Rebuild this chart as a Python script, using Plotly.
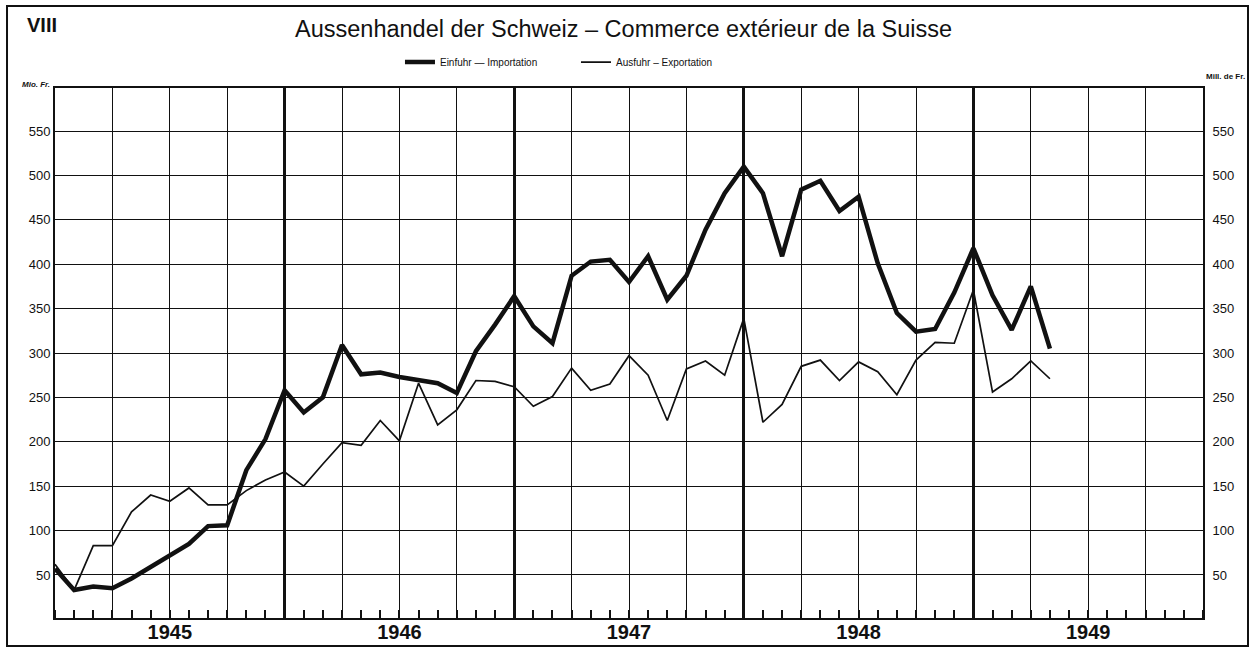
import plotly.graph_objects as go
import pandas as pd

# ---- data (Mio. Fr., monthly, Jan 1945 - May 1949) ----
start_month = "1945-01"
einfuhr = [57, 33, 37, 35, 46, 59, 72, 85, 105, 106, 168, 203,
           258, 233, 250, 309, 276, 278, 273, 270, 266, 255, 302, 332,
           364, 330, 311, 387, 403, 405, 380, 409, 360, 387, 439, 480,
           510, 480, 409, 484, 494, 460, 476, 401, 345, 324, 327, 368,
           418, 365, 326, 375, 305]
ausfuhr = [62, 33, 83, 83, 121, 140, 133, 148, 129, 129, 145, 157,
           166, 150, 175, 199, 196, 224, 201, 266, 219, 236, 269, 268,
           262, 240, 251, 283, 258, 265, 297, 275, 224, 282, 291, 275,
           339, 222, 242, 285, 292, 269, 290, 279, 253, 292, 312, 311,
           371, 256, 271, 291, 271]
years = ["1945", "1946", "1947", "1948", "1949"]
y_ticks = [50, 100, 150, 200, 250, 300, 350, 400, 450, 500, 550]

title_text = "Aussenhandel der Schweiz \u2013 Commerce extérieur de la Suisse"
name_imp = "Einfuhr \u2014 Importation"
name_exp = "Ausfuhr \u2013 Exportation"

# month index (0 = Jan 1945)
periods = pd.period_range(start_month, periods=len(einfuhr), freq="M")
x_idx = [(p.year - 1945) * 12 + (p.month - 1) for p in periods]
n_months = len(years) * 12
year_mid = [(int(y) - 1945) * 12 + 6 for y in years]

FONT = "Liberation Sans"
BLACK = "#111111"

fig = go.Figure()
fig.add_trace(go.Scatter(x=x_idx, y=einfuhr, mode="lines", name=name_imp,
                         line=dict(color=BLACK, width=4.5)))
fig.add_trace(go.Scatter(x=x_idx, y=ausfuhr, mode="lines", name=name_exp,
                         line=dict(color=BLACK, width=1.7)))

xr = [0, n_months]
yr = [1.5, 598.5]

fig.update_layout(
    width=1260, height=648,
    margin=dict(l=55, r=57, t=88, b=30, autoexpand=False),
    paper_bgcolor="white", plot_bgcolor="white",
    font=dict(family=FONT, color=BLACK),
    showlegend=True,
    legend=dict(orientation="h", x=0.3005, y=1.049, xanchor="left", yanchor="middle",
                entrywidth=131, entrywidthmode="pixels",
                font=dict(size=10, family=FONT, color=BLACK), bgcolor="rgba(0,0,0,0)"),
    xaxis=dict(range=xr, tickmode="array", tickvals=year_mid, ticktext=years,
               tickfont=dict(size=20, family=FONT, color=BLACK, weight="bold"),
               ticks="", ticklabelstandoff=-5, showgrid=False, zeroline=False,
               automargin=False,
               showline=True, mirror=True, linecolor=BLACK, linewidth=2,
               minor=dict(tickmode="linear", tick0=0, dtick=1, ticks="inside",
                          ticklen=8, tickwidth=1.5, tickcolor=BLACK, showgrid=False)),
    xaxis2=dict(range=xr, overlaying="x", anchor="y", tickmode="linear", tick0=0, dtick=3,
                showgrid=True, gridcolor=BLACK, gridwidth=1.2, showticklabels=False,
                automargin=False, ticks="", zeroline=False, showline=False),
    xaxis3=dict(range=xr, overlaying="x", anchor="y", tickmode="linear", tick0=0, dtick=12,
                showgrid=True, gridcolor=BLACK, gridwidth=3, showticklabels=False,
                automargin=False, ticks="", zeroline=False, showline=False),
    yaxis=dict(range=yr, tickmode="array", tickvals=y_ticks,
               tickfont=dict(size=13, family=FONT, color=BLACK), automargin=False,
               showgrid=True, gridcolor=BLACK, gridwidth=1.2, zeroline=False,
               showline=True, mirror=True, linecolor=BLACK, linewidth=2, ticks=""),
    yaxis2=dict(range=yr, overlaying="y", side="right", anchor="x", tickmode="array",
                tickvals=y_ticks, tickfont=dict(size=13, family=FONT, color=BLACK),
                automargin=False,
                showgrid=False, zeroline=False, showline=False, ticks="outside",
                ticklen=6, tickcolor="rgba(0,0,0,0)"),
)

# invisible companions so overlay axes are registered
fig.add_trace(go.Scatter(x=x_idx[:1], y=einfuhr[:1], xaxis="x2", yaxis="y", mode="lines",
                         showlegend=False, hoverinfo="skip", line=dict(width=0), opacity=0))
fig.add_trace(go.Scatter(x=x_idx[:1], y=einfuhr[:1], xaxis="x3", yaxis="y", mode="lines",
                         showlegend=False, hoverinfo="skip", line=dict(width=0), opacity=0))
fig.add_trace(go.Scatter(x=x_idx[:1], y=einfuhr[:1], xaxis="x", yaxis="y2", mode="lines",
                         showlegend=False, hoverinfo="skip", line=dict(width=0), opacity=0))

# outer frame
fig.add_shape(type="rect", xref="paper", yref="paper",
              x0=-0.0418, x1=1.0392, y0=-0.0528, y1=1.1547,
              line=dict(color=BLACK, width=2), fillcolor="rgba(0,0,0,0)", layer="above")

fig.add_annotation(text=title_text, xref="paper", yref="paper", x=0.4948, y=1.1113,
                   xanchor="center", yanchor="middle", showarrow=False,
                   font=dict(size=23.5, family=FONT, color=BLACK))
fig.add_annotation(text="<b>VIII</b>", xref="paper", yref="paper", x=-0.0261, y=1.1189,
                   xanchor="left", yanchor="middle", showarrow=False,
                   font=dict(size=20, family=FONT, color=BLACK))
fig.add_annotation(text="<b><i>Mio. Fr.</i></b>", xref="paper", yref="paper", x=-0.0026, y=1.006,
                   xanchor="right", yanchor="middle", showarrow=False,
                   font=dict(size=8, family=FONT, color=BLACK))
fig.add_annotation(text="<b>Mill. de Fr.</b>", xref="paper", yref="paper", x=1.0383, y=1.0226,
                   xanchor="right", yanchor="middle", showarrow=False,
                   font=dict(size=8, family=FONT, color=BLACK))

fig.write_html("out.html", config={"displayModeBar": False},
               post_script="document.body.style.margin='0';document.body.style.overflow='hidden';")
